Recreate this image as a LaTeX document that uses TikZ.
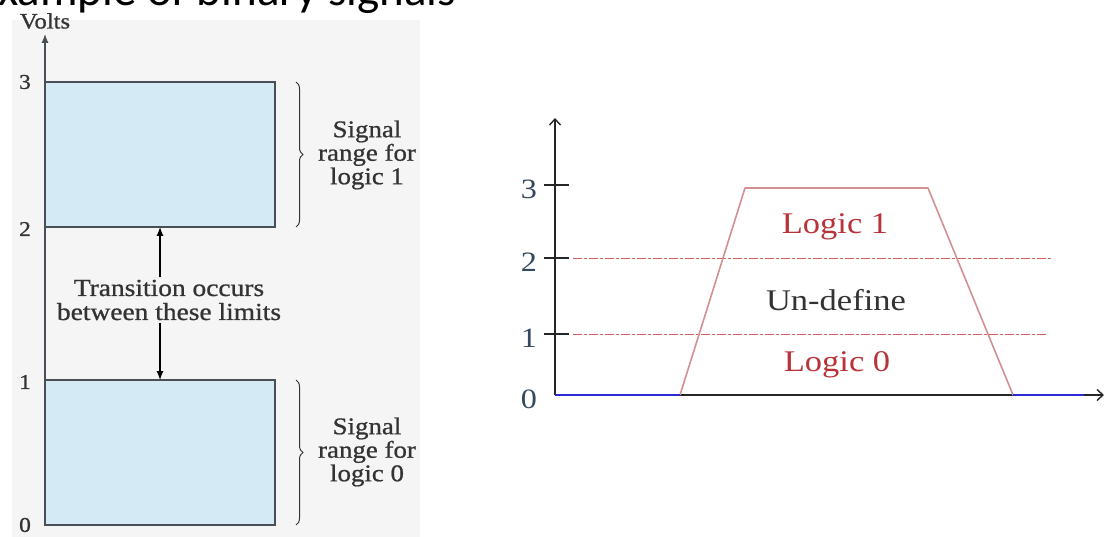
\documentclass[tikz,border=0pt]{standalone}
\usepackage{fontspec}
\setmainfont{Liberation Serif}
\newfontfamily\titlefont{Carlito}
\newfontfamily\lserif[FakeStretch=1.12,FakeBold=0.8]{Liberation Serif}
\newfontfamily\rserif[FakeStretch=1.15]{Liberation Serif}
\usetikzlibrary{arrows.meta,decorations.pathreplacing}
\definecolor{boxfill}{HTML}{D4EAF4}
\definecolor{panel}{HTML}{F5F5F5}
\definecolor{ink}{HTML}{333333}
\definecolor{edge}{HTML}{4A4F55}
\definecolor{tickblue}{HTML}{34495E}
\definecolor{logicred}{HTML}{B8323A}
\definecolor{trap}{HTML}{D49090}
\definecolor{dashred}{HTML}{D26060}
\definecolor{sigblue}{HTML}{2A2AD0}
\tikzset{
  levelbox/.style={draw=edge, line width=1.4pt, fill=boxfill, minimum width=230pt, minimum height=145pt, inner sep=0pt, outer sep=0pt, anchor=north west},
  leftlab/.style={font=\lserif\fontsize{21}{23}\selectfont, text=ink, inner sep=0pt},
  voltslab/.style={font=\lserif\fontsize{22}{24}\selectfont, text=ink, inner sep=0pt},
  sidetext/.style={font=\lserif\fontsize{24}{23.5}\selectfont, text=ink, align=center, inner sep=0pt},
  transtext/.style={font=\lserif\fontsize{24.5}{24}\selectfont, text=ink, align=center, inner sep=0pt},
  brc/.style={decorate, decoration={brace, amplitude=7pt}, draw=ink, line width=1pt},
  blackarrow/.style={draw=black, line width=1.2pt, -{Latex[length=9pt,width=7pt]}},
  raxis/.style={draw=black!85, line width=1.4pt},
  openarrow/.style={-{Straight Barb[length=6pt,width=11pt,line width=1.4pt]}},
  ticklab/.style={font=\rserif\fontsize{28}{30}\selectfont, text=tickblue, inner sep=0pt},
  logictext/.style={font=\rserif\fontsize{30}{32}\selectfont, inner sep=0pt},
  threshold/.style={draw=dashred, line width=0.8pt, dash pattern=on 9pt off 2pt on 3pt off 2pt},
  signal/.style={draw=sigblue, line width=2.6pt},
  trapline/.style={draw=trap, line width=1.6pt, line join=round}
}
\begin{document}
\begin{tikzpicture}[x=1pt,y=-1pt]
\useasboundingbox (0,0) rectangle (1107,537);
\clip (0,0) rectangle (1107,537);
\fill[white] (0,0) rectangle (1107,537);
\fill[panel] (12,20) rectangle (420,537);
% title (cut off at top)
\node[anchor=base west, inner sep=0pt, font=\titlefont\fontsize{47}{50}\selectfont, text=black] (title) at (-25,6) {Example of binary signals};

% ---------- left diagram ----------
\node[voltslab] (volts) at (45,21) {Volts};
\coordinate (lorig) at (45,525);
\coordinate (ltip) at (45,34);
\draw[blackarrow, draw=edge] (lorig) -- (ltip);
\node[levelbox] (b1) at (45,82) {};
\node[levelbox] (b0) at (45,380) {};
\node[leftlab] (l3) at (25,82) {3};
\node[leftlab] (l2) at (25,229) {2};
\node[leftlab] (l1) at (25,382) {1};
\node[leftlab] (l0) at (25,525) {0};
\node[transtext] (trans) at (169,300) {Transition occurs\\between these limits};
\draw[blackarrow] (trans.north -| b1.south) ++(0,-3) -- (b1.south);
\draw[blackarrow] (trans.south -| b0.north) ++(0,3) -- (b0.north);
\coordinate (br1a) at (296,82);
\coordinate (br1b) at (296,227);
\coordinate (br0a) at (296,380);
\coordinate (br0b) at (296,525);
\draw[brc] (br1a) -- (br1b);
\draw[brc] (br0a) -- (br0b);
\node[sidetext] (s1) at (367,155) {Signal\\range for\\logic 1};
\node[sidetext] (s0) at (367,452) {Signal\\range for\\logic 0};

% ---------- right diagram ----------
\coordinate (rorig) at (555,395);
\coordinate (rytip) at (555,118);
\coordinate (rxtip) at (1104,395);
\draw[raxis, openarrow] (rorig) -- (rytip);
\draw[raxis, openarrow] (rorig) -- (rxtip);
\coordinate (t3) at (555,185);
\coordinate (t2) at (555,258);
\coordinate (t1) at (555,334);
\draw[raxis] ([xshift=-11pt]t3) -- ([xshift=14pt]t3);
\draw[raxis] ([xshift=-11pt]t2) -- ([xshift=14pt]t2);
\draw[raxis] ([xshift=-11pt]t1) -- ([xshift=14pt]t1);
\node[ticklab] (r3) at (529,189) {3};
\node[ticklab] (r2) at (529,262) {2};
\node[ticklab] (r1) at (529,338) {1};
\node[ticklab] (r0) at (529,399) {0};
\coordinate (d2a) at (573,258);
\coordinate (d2b) at (1052,258);
\coordinate (d1a) at (573,334);
\coordinate (d1b) at (1047,334);
\draw[threshold] (d2a) -- (d2b);
\draw[threshold] (d1a) -- (d1b);
\coordinate (p0) at (680,395);
\coordinate (p1) at (745,188);
\coordinate (p2) at (928,188);
\coordinate (p3) at (1013,395);
\coordinate (p4) at (1084,395);
\draw[trapline] (p0) -- (p1) -- (p2) -- (p3);
\draw[signal] (rorig) -- (p0);
\draw[signal] (p3) -- (p4);
\node[logictext, text=logicred] (lg1) at (835,227) {Logic 1};
\node[logictext, text=ink] (und) at (836,300) {Un-define};
\node[logictext, text=logicred] (lg0) at (837,365) {Logic 0};
\end{tikzpicture}
\end{document}
